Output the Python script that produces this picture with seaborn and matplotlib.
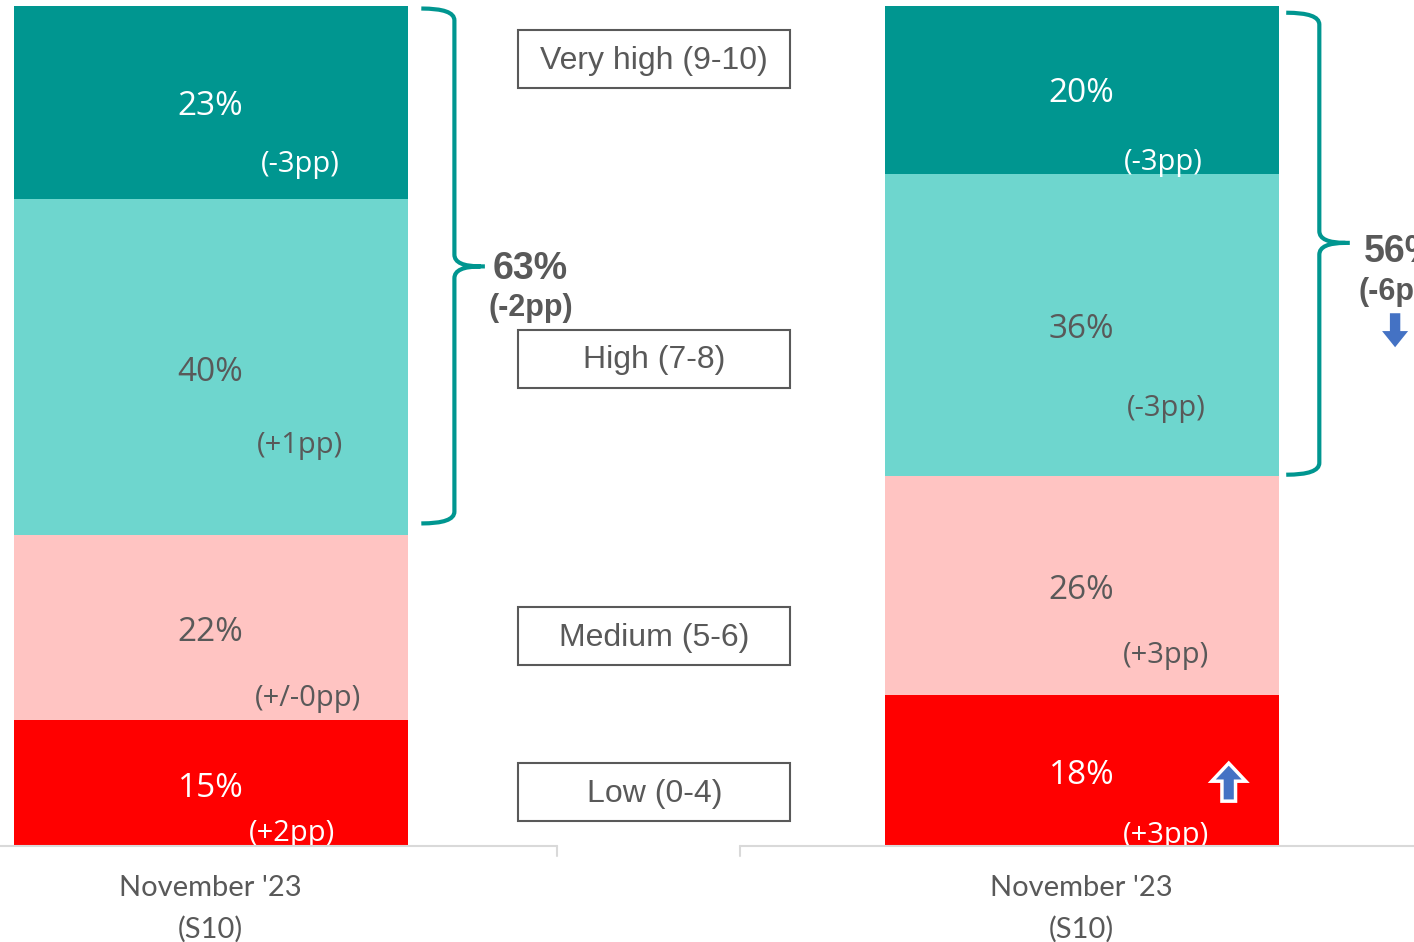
import matplotlib
matplotlib.use('Agg')
import matplotlib.pyplot as plt
import matplotlib.transforms as mtransforms
from matplotlib.patches import Rectangle, Polygon, PathPatch
from matplotlib.path import Path
import seaborn as sns
import pandas as pd
import numpy as np

# data
waves = ["wave_1", "wave_2"]
wave_labels = ["November '23\n(S10)", "November '23\n(S10)"]
levels = ["Very high (9-10)", "High (7-8)", "Medium (5-6)", "Low (0-4)"]
share_wave_1 = [23, 40, 22, 15]
share_wave_2 = [20, 36, 26, 18]
change_wave_1 = ["(-3pp)", "(+1pp)", "(+/-0pp)", "(+2pp)"]
change_wave_2 = ["(-3pp)", "(-3pp)", "(+3pp)", "(+3pp)"]
top2_share = [63, 56]
top2_change = ["(-2pp)", "(-6pp)"]

# colours
level_colors = ["#009690", "#6ED6CE", "#FFC4C2", "#FF0000"]
label_colors = ["white", "#595959", "#595959", "white"]
GRAY = "#595959"
TEAL = "#009690"
BLUE = "#4472C4"

rows = []
for w, shares in zip(waves, [share_wave_1, share_wave_2]):
    for lev, s in zip(levels, shares):
        rows.append({"wave": w, "level": lev, "share": s})
df = pd.DataFrame(rows)
# cumulative from the bottom (Low) upwards
df["cum"] = df.groupby("wave")["share"].transform(lambda s: s[::-1].cumsum()[::-1])

sns.set_theme(style="white")
plt.rcParams['font.family'] = ['Open Sans', 'DejaVu Sans']
ARIAL = ['Liberation Sans', 'DejaVu Sans']

fig = plt.figure(figsize=(14.14, 9.42), dpi=100)
ax = fig.add_axes([0, 96 / 942, 1, 840 / 942])

XMIN, XMAX = -0.2417, 1.3817
BAR_W = 0.4524
for lev, col in zip(levels, level_colors):
    sub = df[df["level"] == lev]
    sns.barplot(data=sub, x="wave", y="cum", order=waves, color=col,
                saturation=1, width=BAR_W, linewidth=0, ax=ax)

ax.set_xlim(XMIN, XMAX)
ax.set_ylim(0, 100)
sns.despine(ax=ax, left=True, bottom=True, top=True, right=True)
ax.set_yticks([])
ax.set_ylabel("")
ax.set_xlabel("")
ax.set_xticks(range(len(waves)))
ax.set_xticklabels(wave_labels, fontsize=21, color=GRAY, family=['Lato', 'DejaVu Sans'],
                   linespacing=1.65)
ax.tick_params(axis='x', length=0, pad=21)

# segment labels
main_y = [[88.0, 56.4, 25.4, 6.8], [89.6, 61.5, 30.4, 8.4]]
chg_y = [[81.1, 47.7, 17.6, 1.5], [81.4, 52.1, 22.7, 1.2]]
chg_dx = [[0.103, 0.103, 0.112, 0.094], [0.094, 0.097, 0.097, 0.097]]
for i, (shares, changes) in enumerate(zip([share_wave_1, share_wave_2],
                                          [change_wave_1, change_wave_2])):
    for j in range(len(levels)):
        ax.text(i, main_y[i][j], f"{shares[j]}%", ha='center', va='center',
                fontsize=24, color=label_colors[j])
        ax.text(i + chg_dx[i][j], chg_y[i][j], changes[j], ha='center', va='center',
                fontsize=21, color=label_colors[j])

# legend boxes in the middle
box_cx, box_w, box_h = 0.5095, 0.312, 6.9
box_y = [93.7, 58.0, 25.0, 6.4]
for lev, by in zip(levels, box_y):
    ax.add_patch(Rectangle((box_cx - box_w / 2, by - box_h / 2), box_w, box_h,
                           facecolor='white', edgecolor=GRAY, lw=1.5, clip_on=False))
    ax.text(box_cx, by - 0.2, lev, ha='center', va='center', fontsize=23, color=GRAY,
            family=ARIAL)


# braces
def brace(xv, ytop, ybot, ymid, hook, tip):
    ry = 1.4
    rx = 0.03
    verts = [(xv - hook, ytop), (xv, ytop), (xv, ytop - ry),
             (xv, ymid + ry), (xv, ymid), (xv + rx, ymid),
             (xv + tip, ymid),
             (xv + rx, ymid), (xv, ymid), (xv, ymid - ry),
             (xv, ybot + ry), (xv, ybot), (xv - hook, ybot)]
    codes = [Path.MOVETO, Path.CURVE3, Path.CURVE3,
             Path.LINETO, Path.CURVE3, Path.CURVE3,
             Path.LINETO,
             Path.MOVETO, Path.CURVE3, Path.CURVE3,
             Path.LINETO, Path.CURVE3, Path.CURVE3]
    ax.add_patch(PathPatch(Path(verts, codes), facecolor='none', edgecolor=TEAL,
                           lw=3, clip_on=False, capstyle='butt'))


brace(0.280, 99.7, 38.4, 69.0, 0.038, 0.035)
brace(1.0 + 0.273, 99.2, 44.2, 71.8, 0.038, 0.035)

ax.text(0.280 + 0.044, 68.7, f"{top2_share[0]}%", ha='left', va='center',
        fontsize=27, fontweight='bold', color=GRAY, family=ARIAL)
ax.text(0.280 + 0.039, 64.0, top2_change[0], ha='left', va='center',
        fontsize=22, fontweight='bold', color=GRAY, family=ARIAL)
ax.text(1.273 + 0.051, 70.7, f"{top2_share[1]}%", ha='left', va='center', clip_on=False,
        fontsize=27, fontweight='bold', color=GRAY, family=ARIAL)
ax.text(1.273 + 0.045, 65.9, top2_change[1], ha='left', va='center', clip_on=False,
        fontsize=22, fontweight='bold', color=GRAY, family=ARIAL)


# block arrows (drawn in pixel units around a data anchor)
def block_arrow(x, y, up, edge, size):
    s = 1 if up else -1
    pts = np.array([(-0.4, -1), (0.4, -1), (0.4, 0.05), (1, 0.05), (0, 1),
                    (-1, 0.05), (-0.4, 0.05)], float)
    pts[:, 0] *= size[0]
    pts[:, 1] *= size[1] * s
    tr = mtransforms.ScaledTranslation(x, y, ax.transData)
    ax.add_patch(Polygon(pts, closed=True, facecolor=BLUE, edgecolor=edge, lw=2.5,
                         transform=tr, clip_on=False, joinstyle='miter'))


block_arrow(1.169, 7.6, True, 'white', (17, 19))
block_arrow(1.360, 61.4, False, 'none', (13, 17))

# broken category axis line
AX_GRAY = "#D9D9D9"
ax.plot([XMIN, 0.398], [0, 0], color=AX_GRAY, lw=1.5, clip_on=False, zorder=5)
ax.plot([0.608, XMAX], [0, 0], color=AX_GRAY, lw=1.5, clip_on=False, zorder=5)
for xt in [0.398, 0.608]:
    ax.plot([xt, xt], [0, -1.2], color=AX_GRAY, lw=1.5, clip_on=False, zorder=5)

fig.savefig("out.png", dpi=100)
